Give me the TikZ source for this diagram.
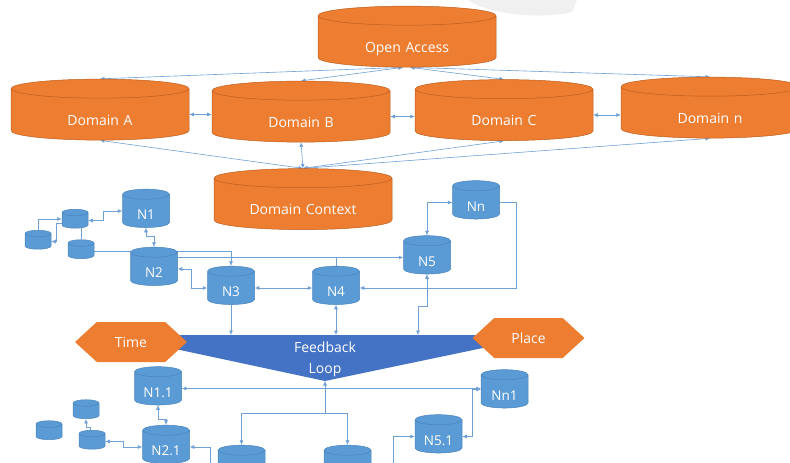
\documentclass[tikz,border=0pt]{standalone}
\usepackage{fontspec}
\setmainfont{Open Sans}
\usetikzlibrary{shapes.geometric,shapes.symbols,arrows.meta,positioning,calc,backgrounds}

\definecolor{domorange}{HTML}{ED7D31}
\definecolor{domedge}{HTML}{BE5F1F}
\definecolor{nodeblue}{HTML}{5B9BD5}
\definecolor{nodeedge}{HTML}{4A84BC}
\definecolor{loopblue}{HTML}{4472C4}
\definecolor{linkblue}{HTML}{6FA0D6}

\tikzset{
  domcyl/.style={cylinder, shape border rotate=90, aspect=0.127, draw=domedge, line width=0.5pt,
    fill=domorange, text=white, minimum width=178pt, minimum height=61pt, inner sep=0pt,
    text width=150pt, align=center, text height=24pt, text depth=3pt,
    font=\fontsize{14}{16}\selectfont},
  netcyl/.style={cylinder, shape border rotate=90, aspect=0.28, draw=nodeedge, line width=0.5pt,
    fill=nodeblue, text=white, minimum width=47pt, minimum height=38pt, inner sep=0pt,
    text width=36pt, align=center, text height=20pt, text depth=3pt,
    font=\fontsize{13.5}{16}\selectfont},
  smallcyl/.style={netcyl, minimum width=26pt, minimum height=19pt, aspect=0.33,
    text width=20pt, text height=0pt, text depth=0pt},
  hexbox/.style={signal, signal to=west and east, signal pointer angle=85, fill=domorange,
    text=white, minimum width=112pt, minimum height=40pt, inner sep=0pt,
    font=\fontsize{14}{16}\selectfont},
  linkline/.style={draw=linkblue, line width=0.6pt}
}

\begin{document}
\begin{tikzpicture}[x=1pt,y=-1pt,>={Latex[length=4.5pt,width=4pt]}]
\useasboundingbox (0,0) rectangle (790,463);
\clip (0,0) rectangle (790,463);
\fill[gray!12] (468,0) .. controls (488,14) and (540,20) .. (572,12) -- (577,0) -- cycle;

% domains
\node[domcyl] (open) at (407,41.5) {Open Access};
\node[domcyl] (domA) at (100,114.5) {Domain A};
\node[domcyl] (domB) at (301,116.5) {Domain B};
\node[domcyl] (domC) at (504,115) {Domain C};
\node[domcyl] (domN) at (710,112.5) {Domain n};
\node[domcyl] (ctx) at (303,204) {Domain Context};

% upper network
\node[netcyl] (n1) at (146,211) {N1};
\node[smallcyl] (s1) at (75,220.5) {};
\node[smallcyl] (s2) at (38,241.5) {};
\node[smallcyl] (s3) at (81,251) {};
\node[netcyl] (n2) at (154,269) {N2};
\node[netcyl] (n3) at (231,288) {N3};
\node[netcyl] (n4) at (336,288) {N4};
\node[netcyl] (n5) at (427,257.5) {N5};
\node[netcyl] (nn) at (476,202.5) {Nn};

% feedback loop
\fill[loopblue] (110,335) coordinate (fbleft) -- (545,335) -- (325,381) coordinate (fbtip) -- cycle;
\coordinate (fbtop) at (325,335);
\node[text=white, align=center, font=\fontsize{14}{21}\selectfont] (fb) at (325,359) {Feedback\\Loop};
\node[hexbox] (time) at (131,342) {Time};
\node[hexbox] (place) at (528.5,338) {Place};

% lower network
\node[netcyl] (n11) at (158,388.5) {N1.1};
\node[smallcyl] (b1) at (86,411) {};
\node[smallcyl] (b2) at (49,432) {};
\node[smallcyl] (b3) at (92,441.5) {};
\node[netcyl] (n21) at (166,447) {N2.1};
\node[netcyl] (c1) at (241.5,467) {};
\node[netcyl] (c2) at (347.5,467) {};
\node[netcyl] (nn1) at (504.5,391.5) {Nn1};
\node[netcyl] (n51) at (438.5,436.5) {N5.1};
\coordinate (in21) at (210,463);
\coordinate (in51) at (393,463);

\begin{scope}[on background layer]
% open access and context
\draw[linkline,<->] ([xshift=-4pt]open.south) -- (domA.north);
\draw[linkline,<->] ([xshift=-4pt]open.south) -- (domB.north);
\draw[linkline,<->] ([xshift=3pt]open.south) -- (domC.north);
\draw[linkline,<->] ([xshift=3pt]open.south) -- (domN.north);
\draw[linkline,<->] (domA.east) -- (domA.east -| domB.west);
\draw[linkline,<->] (domB.east) -- (domB.east -| domC.west);
\draw[linkline,<->] (domC.east) -- (domC.east -| domN.west);
\draw[linkline,<->] (ctx.north) -- (domA.south);
\draw[linkline,<->] (ctx.north) -- (domB.south);
\draw[linkline,<->] (ctx.north) -- (domC.south);
\draw[linkline,<->] (ctx.north) -- (domN.south);

% upper network
\draw[linkline,<->] (s1.east) -- ++(15,0) |- (n1.west);
\draw[linkline,->] (s2.north) |- ([yshift=1.5pt]s1.west);
\draw[linkline,->] ([yshift=-3pt]s1.west) -- ++(-5,0) |- (s2.east);
\draw[linkline] (s3.north |- s1.south) -- (s3.north);
\draw[linkline,->] (s3.east) -| (n3.north);
\draw[linkline,<->] (n1.south) -- ++(0,9) -| (n2.north);
\draw[linkline,->] (n2.east |- n5.west) -- (n5.west);
\draw[linkline] (n4.north) -- (n4.north |- n5.west);
\draw[linkline,<->] (n2.east) -- ++(14,0) |- (n3.west);
\draw[linkline,<->] (n3.east) -- (n4.west);
\draw[linkline,->] (nn.east) -- ++(17,0) |- (n4.east);
\draw[linkline,<->] (n5.north) |- (nn.west);
\draw[linkline,->] (n3.south) -- (n3.south |- fbtop);
\draw[linkline,<->] (n4.south |- fbtop) -- (n4.south);
\draw[linkline,<->] (n5.south) -- ++(0,32) -| ($(n5.south |- fbtop)+(-9,0)$);

% lower network
\draw[linkline,<-] (fbtip) -- ++(0,32) coordinate (split);
\draw[linkline,->] (split) -| (c1.north);
\draw[linkline,->] (split) -| (c2.north);
\draw[linkline,<->] (n11.east) -- (n11.east -| nn1.west);
\draw[linkline,<->] (n51.east) -- ++(10,0) |- ([yshift=2pt]nn1.west);
\draw[linkline,->] (in51) |- (n51.west);
\draw[linkline,->] (in21) |- (n21.east);
\draw[linkline,<->] (n11.south) -- ++(0,14) -| (n21.north);
\draw[linkline,<->] (b3.east) -- ++(18,0) |- (n21.west);
\draw[linkline,->] ([xshift=-2pt]b3.north) -- ++(0,-3) -| (b1.south);
\end{scope}
\end{tikzpicture}
\end{document}
